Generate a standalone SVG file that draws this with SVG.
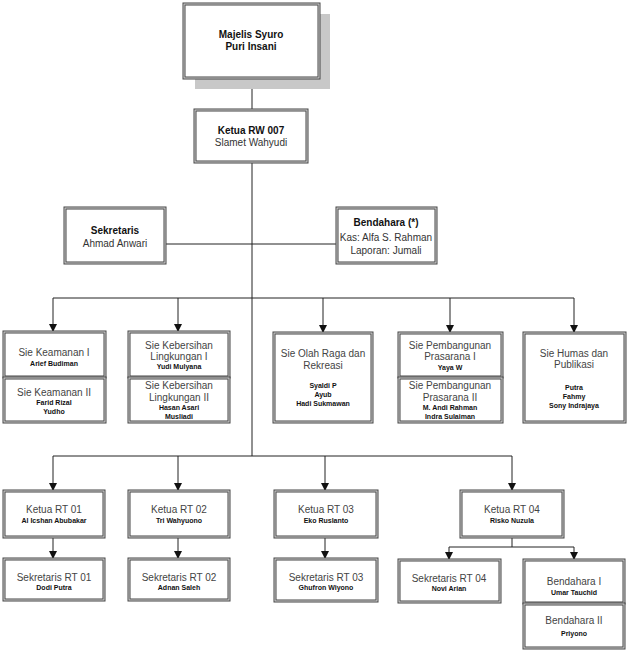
<svg xmlns="http://www.w3.org/2000/svg" width="628" height="653" viewBox="0 0 628 653">
<style>
.o{fill:#fff;stroke:#444;stroke-width:3}
.i{fill:none;stroke:#d8d8d8;stroke-width:1}
.c{fill:none;stroke:#222;stroke-width:1}
text{font-family:"Liberation Sans",Arial,sans-serif;text-anchor:middle;fill:#333}
.h{font-size:10px;font-weight:bold;fill:#111}
.r{font-size:10px;fill:#333}
.t{font-size:10px;fill:#444}
.n{font-size:7px;font-weight:bold;fill:#111}
</style>
<defs>
<marker id="ar" markerWidth="8" markerHeight="8" refX="7" refY="4" orient="auto" markerUnits="userSpaceOnUse">
<path d="M0,0 L8,4 L0,8 z" fill="#111"/>
</marker>
</defs>
<rect width="628" height="653" fill="#fff"/>
<g id="connectors">
<path class="c" d="M252,78 V110"/>
<path class="c" d="M252,162 V456"/>
<path class="c" d="M165,244 H337"/>
<path class="c" d="M53,298 H574"/>
<path class="c" d="M53,298 V331" marker-end="url(#ar)"/>
<path class="c" d="M178,298 V331" marker-end="url(#ar)"/>
<path class="c" d="M323,298 V332" marker-end="url(#ar)"/>
<path class="c" d="M450,298 V332" marker-end="url(#ar)"/>
<path class="c" d="M574,298 V332" marker-end="url(#ar)"/>
<path class="c" d="M53,456 H512"/>
<path class="c" d="M53,456 V490" marker-end="url(#ar)"/>
<path class="c" d="M178,456 V490" marker-end="url(#ar)"/>
<path class="c" d="M325,456 V490" marker-end="url(#ar)"/>
<path class="c" d="M512,456 V490" marker-end="url(#ar)"/>
<path class="c" d="M53,537 V558" marker-end="url(#ar)"/>
<path class="c" d="M178,537 V558" marker-end="url(#ar)"/>
<path class="c" d="M325,537 V558" marker-end="url(#ar)"/>
<path class="c" d="M512,537 V547 M449,547 H574"/>
<path class="c" d="M449,547 V559" marker-end="url(#ar)"/>
<path class="c" d="M574,547 V559" marker-end="url(#ar)"/>
</g>
<g id="majelis">
<rect x="195" y="14" width="135" height="75" fill="#c8c8c8"/>
<rect class="o" x="184" y="4" width="135" height="74"/><rect class="i" x="184" y="4" width="135" height="74"/>
<text class="h" x="251" y="38">Majelis Syuro</text>
<text class="h" x="251" y="50">Puri Insani</text>
</g>
<g id="ketua-rw">
<rect class="o" x="195" y="110" width="112" height="52"/><rect class="i" x="195" y="110" width="112" height="52"/>
<text class="h" x="251" y="134">Ketua RW 007</text>
<text class="r" x="251" y="146">Slamet Wahyudi</text>
</g>
<g id="sekretaris">
<rect class="o" x="65" y="208" width="100" height="55"/><rect class="i" x="65" y="208" width="100" height="55"/>
<text class="h" x="115" y="234">Sekretaris</text>
<text class="r" x="115" y="247">Ahmad Anwari</text>
</g>
<g id="bendahara">
<rect class="o" x="337" y="208" width="99" height="55"/><rect class="i" x="337" y="208" width="99" height="55"/>
<text class="h" x="386" y="226">Bendahara (*)</text>
<text class="r" x="386" y="241">Kas: Alfa S. Rahman</text>
<text class="r" x="386" y="254">Laporan: Jumali</text>
</g>
<g id="keamanan1">
<rect class="o" x="4" y="332" width="101" height="45"/><rect class="i" x="4" y="332" width="101" height="45"/>
<text class="t" x="54" y="356">Sie Keamanan I</text>
<text class="n" x="54" y="366">Arief Budiman</text>
</g>
<g id="keamanan2">
<rect class="o" x="4" y="378" width="101" height="44"/><rect class="i" x="4" y="378" width="101" height="44"/>
<text class="t" x="54" y="396">Sie Keamanan II</text>
<text class="n" x="54" y="405">Farid Rizal</text>
<text class="n" x="54" y="414">Yudho</text>
</g>
<g id="kebersihan1">
<rect class="o" x="129" y="332" width="100" height="45"/><rect class="i" x="129" y="332" width="100" height="45"/>
<text class="t" x="179" y="349">Sie Kebersihan</text>
<text class="t" x="179" y="360">Lingkungan I</text>
<text class="n" x="179" y="369">Yudi Mulyana</text>
</g>
<g id="kebersihan2">
<rect class="o" x="129" y="378" width="100" height="44"/><rect class="i" x="129" y="378" width="100" height="44"/>
<text class="t" x="179" y="389">Sie Kebersihan</text>
<text class="t" x="179" y="401">Lingkungan II</text>
<text class="n" x="179" y="410">Hasan Asari</text>
<text class="n" x="179" y="419">Musliadi</text>
</g>
<g id="olahraga">
<rect class="o" x="274" y="333" width="98" height="89"/><rect class="i" x="274" y="333" width="98" height="89"/>
<text class="t" x="323" y="357">Sie Olah Raga dan</text>
<text class="t" x="323" y="369">Rekreasi</text>
<text class="n" x="323" y="388">Syaldi P</text>
<text class="n" x="323" y="397">Ayub</text>
<text class="n" x="323" y="406">Hadi Sukmawan</text>
</g>
<g id="pembangunan1">
<rect class="o" x="399" y="333" width="103" height="44"/><rect class="i" x="399" y="333" width="103" height="44"/>
<text class="t" x="450" y="349">Sie Pembangunan</text>
<text class="t" x="450" y="360">Prasarana I</text>
<text class="n" x="450" y="370">Yaya W</text>
</g>
<g id="pembangunan2">
<rect class="o" x="399" y="378" width="103" height="44"/><rect class="i" x="399" y="378" width="103" height="44"/>
<text class="t" x="450" y="389">Sie Pembangunan</text>
<text class="t" x="450" y="401">Prasarana II</text>
<text class="n" x="450" y="410">M. Andi Rahman</text>
<text class="n" x="450" y="419">Indra Sulaiman</text>
</g>
<g id="humas">
<rect class="o" x="524" y="333" width="101" height="89"/><rect class="i" x="524" y="333" width="101" height="89"/>
<text class="t" x="574" y="357">Sie Humas dan</text>
<text class="t" x="574" y="368">Publikasi</text>
<text class="n" x="574" y="390">Putra</text>
<text class="n" x="574" y="399">Fahmy</text>
<text class="n" x="574" y="408">Sony Indrajaya</text>
</g>
<g id="rt01">
<rect class="o" x="4" y="491" width="100" height="46"/><rect class="i" x="4" y="491" width="100" height="46"/>
<text class="t" x="54" y="513">Ketua RT 01</text>
<text class="n" x="54" y="523">Al Icshan Abubakar</text>
</g>
<g id="sek-rt01">
<rect class="o" x="4" y="559" width="100" height="41"/><rect class="i" x="4" y="559" width="100" height="41"/>
<text class="t" x="54" y="581">Sekretaris RT 01</text>
<text class="n" x="54" y="590">Dodi Putra</text>
</g>
<g id="rt02">
<rect class="o" x="129" y="491" width="100" height="46"/><rect class="i" x="129" y="491" width="100" height="46"/>
<text class="t" x="179" y="513">Ketua RT 02</text>
<text class="n" x="179" y="523">Tri Wahyuono</text>
</g>
<g id="sek-rt02">
<rect class="o" x="129" y="559" width="100" height="41"/><rect class="i" x="129" y="559" width="100" height="41"/>
<text class="t" x="179" y="581">Sekretaris RT 02</text>
<text class="n" x="179" y="590">Adnan Saleh</text>
</g>
<g id="rt03">
<rect class="o" x="275" y="491" width="102" height="46"/><rect class="i" x="275" y="491" width="102" height="46"/>
<text class="t" x="326" y="513">Ketua RT 03</text>
<text class="n" x="326" y="523">Eko Ruslanto</text>
</g>
<g id="sek-rt03">
<rect class="o" x="275" y="559" width="102" height="42"/><rect class="i" x="275" y="559" width="102" height="42"/>
<text class="t" x="326" y="581">Sekretaris RT 03</text>
<text class="n" x="326" y="590">Ghufron Wiyono</text>
</g>
<g id="rt04">
<rect class="o" x="461" y="491" width="102" height="46"/><rect class="i" x="461" y="491" width="102" height="46"/>
<text class="t" x="512" y="513">Ketua RT 04</text>
<text class="n" x="512" y="523">Risko Nuzula</text>
</g>
<g id="sek-rt04">
<rect class="o" x="399" y="560" width="101" height="42"/><rect class="i" x="399" y="560" width="101" height="42"/>
<text class="t" x="449" y="582">Sekretaris RT 04</text>
<text class="n" x="449" y="591">Novi Arian</text>
</g>
<g id="bendahara1">
<rect class="o" x="524" y="560" width="100" height="43"/><rect class="i" x="524" y="560" width="100" height="43"/>
<text class="t" x="574" y="585">Bendahara I</text>
<text class="n" x="574" y="595">Umar Tauchid</text>
</g>
<g id="bendahara2">
<rect class="o" x="524" y="604" width="100" height="44"/><rect class="i" x="524" y="604" width="100" height="44"/>
<text class="t" x="574" y="624">Bendahara II</text>
<text class="n" x="574" y="636">Priyono</text>
</g>
</svg>
